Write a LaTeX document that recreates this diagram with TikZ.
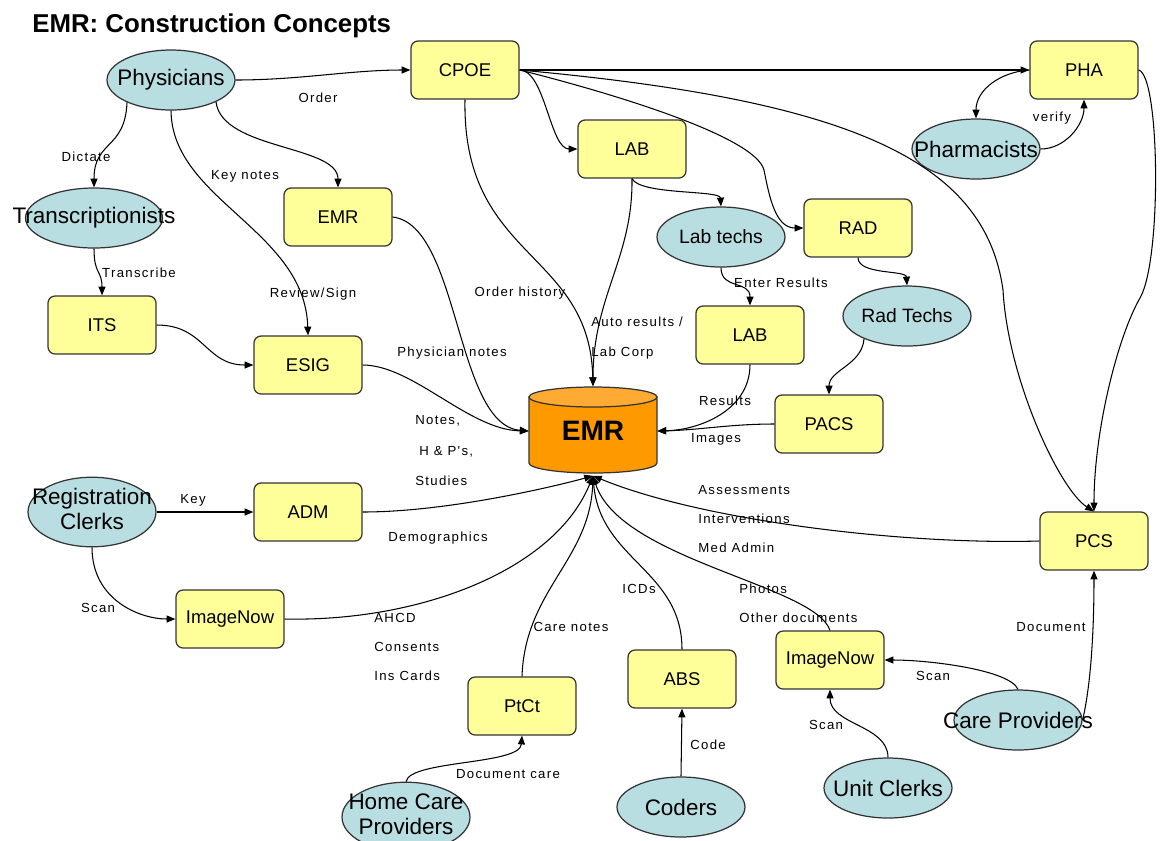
\documentclass[tikz,border=0pt]{standalone}
\usepackage{fontspec}
\setmainfont{Liberation Sans}
\newfontfamily\lblfont[LetterSpace=10]{Liberation Sans}
\usetikzlibrary{shapes.geometric,arrows.meta}

\definecolor{boxfill}{HTML}{FFFF99}
\definecolor{rolefill}{HTML}{B8DEE2}
\definecolor{boxline}{HTML}{333333}
\definecolor{dbbody}{HTML}{FF9900}
\definecolor{dbtop}{HTML}{FFAA33}

% text wider than its ellipse, kept centred
\newcommand{\ovr}[1]{\makebox[0pt]{#1}}
\newcommand{\twoline}[2]{\makebox[0pt]{\raisebox{-2.3pt}{\begin{tabular}{@{}c@{}}#1\\#2\end{tabular}}}}

\begin{document}
\begin{tikzpicture}[x=0.02cm, y=-0.02cm,
  sysbox/.style={draw=boxline, fill=boxfill, rounded corners=4pt, line width=0.7pt,
    minimum width=2.16cm, minimum height=1.16cm, inner sep=0pt,
    font=\fontsize{10.5}{12}\selectfont},
  role/.style={ellipse, draw=boxline, fill=rolefill, line width=0.7pt,
    minimum width=2.56cm, minimum height=1.2cm, inner sep=0pt,
    font=\fontsize{12.8}{14}\selectfont},
  smallrole/.style={role, font=\fontsize{11}{13}\selectfont},
  flow/.style={-{Triangle[length=5pt,width=4pt]}, line width=0.6pt},
  lbl/.style={inner sep=0pt, font={\lblfont\fontsize{7.5}{9}\selectfont}}]
\useasboundingbox (0,0) rectangle (1161,840);

\node[anchor=base west, inner sep=0pt, font=\bfseries\fontsize{14.7}{17}\selectfont] (title) at (32,32) {EMR: Construction Concepts};

% the EMR database
\filldraw[fill=dbbody, draw=boxline, line width=0.7pt] (529,397) -- (529,463)
  arc[start angle=180, end angle=360, x radius=1.28cm, y radius=0.2cm] -- (657,397) -- cycle;
\filldraw[fill=dbtop, draw=boxline, line width=0.7pt] (593,397) ellipse[x radius=1.28cm, y radius=0.2cm];
\node[minimum width=2.56cm, minimum height=1.78cm, inner sep=0pt, font=\bfseries\fontsize{16}{18}\selectfont] (emrdb) at (593,431) {EMR};

% systems and people
\node[role] (phys) at (171,80) {\ovr{Physicians}};
\node[sysbox] (cpoe) at (465,70) {CPOE};
\node[sysbox] (pha) at (1084,70) {PHA};
\node[role] (pharm) at (976,149) {\ovr{Pharmacists}};
\node[sysbox] (lab) at (632,149) {LAB};
\node[role, minimum width=2.74cm] (trans) at (94,218) {\ovr{Transcriptionists}};
\node[sysbox] (emrbox) at (338,217) {EMR};
\node[smallrole] (labtechs) at (721,237) {\ovr{Lab techs}};
\node[sysbox] (rad) at (858,228) {RAD};
\node[smallrole] (radtechs) at (907,316) {\ovr{Rad Techs}};
\node[sysbox] (its) at (102,325) {ITS};
\node[sysbox] (esig) at (308,365) {ESIG};
\node[sysbox] (lab2) at (750,335) {LAB};
\node[sysbox] (pacs) at (829,424) {PACS};
\node[role] (regclerks) at (92,512) {\twoline{Registration}{Clerks}};
\node[sysbox] (adm) at (308,512) {ADM};
\node[sysbox] (pcs) at (1094,541) {PCS};
\node[sysbox] (imgnowl) at (230,619) {ImageNow};
\node[sysbox] (imgnowr) at (830,660) {ImageNow};
\node[sysbox] (abs) at (682,679) {ABS};
\node[sysbox] (ptct) at (522,706) {PtCt};
\node[role] (careprov) at (1018,720) {\ovr{Care Providers}};
\node[role] (unitclerks) at (888,788) {\ovr{Unit Clerks}};
\node[role] (coders) at (681,807) {\ovr{Coders}};
\node[role] (homecare) at (406,817) {\twoline{Home Care}{Providers}};

% orders
\draw[flow] (phys.east) .. controls (300,80) and (350,70) .. (cpoe.west);
\draw[flow] (cpoe.east) -- (pha.west);
\draw[flow] (cpoe.east) .. controls (545,70) and (550,149) .. (lab.west);
\draw[flow] (cpoe.east) .. controls (600,90) and (755,135) .. (764,170) .. controls (769,195) and (775,228) .. (rad.west);
\draw[flow] (cpoe.east) .. controls (850,100) and (985,160) .. (1003,290) .. controls (1008,380) and (1060,490) .. (pcs.north);
\draw[flow] (pha.east) .. controls (1160,75) and (1162,260) .. (1140,298) .. controls (1118,336) and (1094,430) .. (pcs.north);
\draw[flow] (pha.west) .. controls (1000,72) and (976,90) .. (pharm.north);
\draw[flow] (pharm.east) .. controls (1065,149) and (1084,125) .. (pha.south);

% physician notes
\draw[flow] (phys.207) .. controls (125,150) and (94,140) .. (trans.north);
\draw[flow] (phys.334) .. controls (222,150) and (338,145) .. (emrbox.north);
\draw[flow] (phys.south) .. controls (172,200) and (305,230) .. (esig.north);
\draw[flow] (trans.south) .. controls (94,275) and (102,270) .. (its.north);
\draw[flow] (its.east) .. controls (205,325) and (205,365) .. (esig.west);
\draw[flow] (esig.east) .. controls (413,365) and (469,430) .. (emrdb.west);
\draw[flow] (emrbox.east) .. controls (460,225) and (455,425) .. (emrdb.west);

% results
\draw[flow] (cpoe.south) .. controls (462,260) and (590,250) .. (emrdb.north);
\draw[flow] (lab.south) .. controls (633,258) and (593,296) .. (emrdb.north);
\draw[flow] (lab.south) .. controls (640,195) and (720,190) .. (labtechs.north);
\draw[flow] (labtechs.south) .. controls (721,290) and (750,280) .. (lab2.north);
\draw[flow] (rad.south) .. controls (858,275) and (906,270) .. (radtechs.north);
\draw[flow] (radtechs.208) .. controls (862,365) and (829,370) .. (pacs.north);
\draw[flow] (lab2.south) .. controls (750,410) and (700,430) .. (emrdb.east);
\draw[flow] (pacs.west) .. controls (730,424) and (700,430) .. (emrdb.east);

% documents into the bottom of the database
\draw[flow] (pcs.west) .. controls (900,545) and (700,520) .. (emrdb.south);
\draw[flow] (adm.east) .. controls (450,512) and (560,485) .. (emrdb.south);
\draw[flow] (regclerks.east) -- (adm.west);
\draw[flow] (regclerks.south) .. controls (92,600) and (140,619) .. (imgnowl.west);
\draw[flow] (imgnowl.east) .. controls (420,622) and (555,570) .. (emrdb.south);
\draw[flow] (ptct.north) .. controls (525,590) and (590,560) .. (emrdb.south);
\draw[flow] (abs.north) .. controls (682,570) and (600,560) .. (emrdb.south);
\draw[flow] (imgnowr.north) .. controls (815,585) and (620,560) .. (emrdb.south);
\draw[flow] (homecare.north) .. controls (410,760) and (520,765) .. (ptct.south);
\draw[flow] (coders.north) -- (abs.south);
\draw[flow] (unitclerks.north) .. controls (888,725) and (830,725) .. (imgnowr.south);
\draw[flow] (careprov.north) .. controls (1010,670) and (930,660) .. (imgnowr.east);
\draw[flow] (careprov.east) .. controls (1092,680) and (1094,620) .. (pcs.south);

% connector labels
\node[lbl] (lorder) at (318,98) {Order};
\node[lbl] (ldictate) at (86,157) {Dictate};
\node[lbl] (lkeynotes) at (245,176) {Key notes};
\node[lbl] (ltranscribe) at (139,273) {Transcribe};
\node[lbl] (lreview) at (313,294) {Review/Sign};
\node[lbl] (lhistory) at (520,293) {Order history};
\node[lbl, anchor=west] (lauto) at (591,322) {Auto results /};
\node[lbl, anchor=west] (llabcorp) at (591,353) {Lab Corp};
\node[lbl] (lphysnotes) at (452,353) {Physician notes};
\node[lbl, anchor=west] (lnotes) at (415,421) {Notes,};
\node[lbl, anchor=west] (lhp) at (419,452) {H \& P's,};
\node[lbl, anchor=west] (lstudies) at (415,481) {Studies};
\node[lbl] (lenter) at (781,283) {Enter Results};
\node[lbl] (lverify) at (1052,118) {verify};
\node[lbl] (lresults) at (725,401) {Results};
\node[lbl] (limages) at (716,439) {Images};
\node[lbl] (lkey) at (193,500) {Key};
\node[lbl] (ldemo) at (438,538) {Demographics};
\node[lbl, anchor=west] (lassess) at (698,490) {Assessments};
\node[lbl, anchor=west] (linterv) at (698,519) {Interventions};
\node[lbl, anchor=west] (lmedadmin) at (698,548) {Med Admin};
\node[lbl] (lscanreg) at (98,608) {Scan};
\node[lbl, anchor=west] (lahcd) at (374,618) {AHCD};
\node[lbl, anchor=west] (lconsents) at (374,647) {Consents};
\node[lbl, anchor=west] (linscards) at (374,676) {Ins Cards};
\node[lbl] (lcarenotes) at (571,627) {Care notes};
\node[lbl] (licds) at (639,589) {ICDs};
\node[lbl, anchor=west] (lphotos) at (739,589) {Photos};
\node[lbl, anchor=west] (lotherdocs) at (739,618) {Other documents};
\node[lbl] (ldocument) at (1051,627) {Document};
\node[lbl] (lscancare) at (933,676) {Scan};
\node[lbl] (lscanunit) at (826,725) {Scan};
\node[lbl] (lcode) at (708,745) {Code};
\node[lbl] (ldoccare) at (508,774) {Document care};
\end{tikzpicture}
\end{document}
